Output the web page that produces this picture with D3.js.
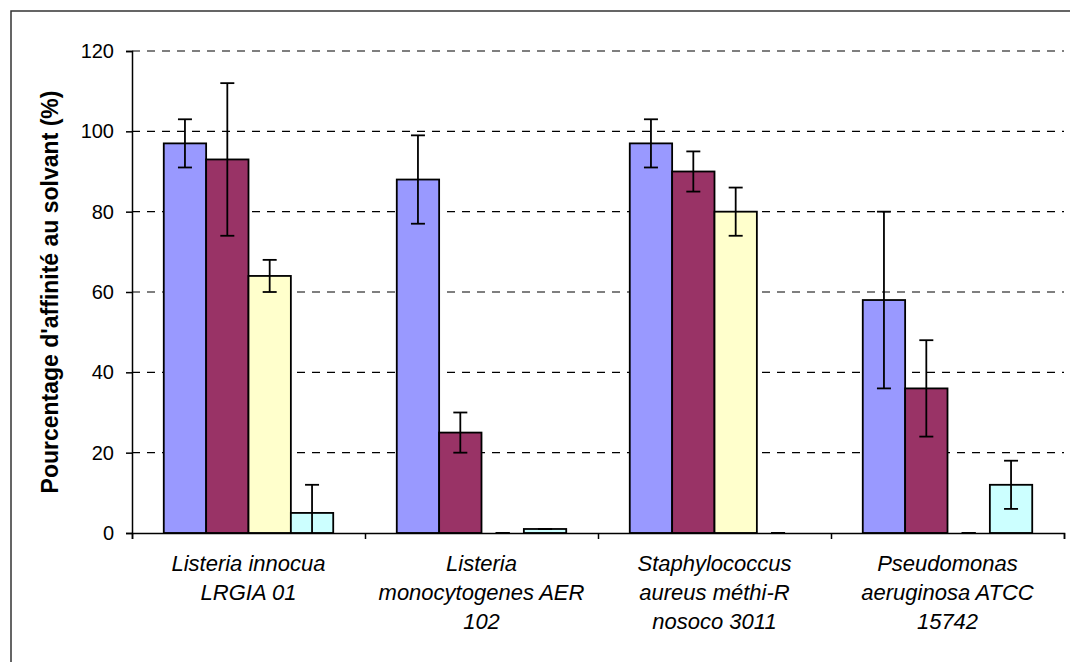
<!DOCTYPE html>
<html><head><meta charset="utf-8">
<script src="https://cdn.jsdelivr.net/npm/d3@7"></script>
<style>html,body{margin:0;padding:0;background:#fff;}svg{display:block;}</style>
</head><body>
<svg id="chart" width="1070" height="662"></svg>
<script>
const categories = [
  ["Listeria innocua", "LRGIA 01"],
  ["Listeria", "monocytogenes AER", "102"],
  ["Staphylococcus", "aureus méthi-R", "nosoco 3011"],
  ["Pseudomonas", "aeruginosa ATCC", "15742"]
];
const seriesNames = ["s1", "s2", "s3", "s4"];
const series1 = [97, 88, 97, 58];
const series2 = [93, 25, 90, 36];
const series3 = [64, 0, 80, 0];
const series4 = [5, 1, 0, 12];
const errors1 = [6, 11, 6, 22];
const errors2 = [19, 5, 5, 12];
const errors3 = [4, 0, 6, 0];
const errors4 = [7, 0, 0, 6];
const yTicks = [0, 20, 40, 60, 80, 100, 120];
const colors = ["#9999FF", "#993366", "#FFFFCC", "#CCFFFF"];
const yTitle = "Pourcentage d'affinité au solvant (%)";

const values = [series1, series2, series3, series4];
const errors = [errors1, errors2, errors3, errors4];

const svg = d3.select("#chart");
const pLeft = 132, pRight = 1064, pTop = 51, pBottom = 533;

// outer border
svg.append("rect").attr("x", 11).attr("y", 11).attr("width", 1100).attr("height", 700)
  .attr("fill", "none").attr("stroke", "#333").attr("stroke-width", 1.5);

const catIdx = categories.map((d, i) => i);
const x0 = d3.scaleBand().domain(catIdx).range([pLeft, pRight]).padding(0);
const x1 = d3.scaleBand().domain(seriesNames).range([0, x0.bandwidth()]).paddingInner(0).paddingOuter(0.75);
const y = d3.scaleLinear().domain([0, 120]).range([pBottom, pTop]);

// gridlines
svg.append("g").selectAll("line").data(yTicks.filter(t => t > 0)).join("line")
  .attr("x1", pLeft).attr("x2", pRight)
  .attr("y1", d => y(d)).attr("y2", d => y(d))
  .attr("stroke", "#000").attr("stroke-width", 1.2).attr("stroke-dasharray", "8,7");

// bars
const data = [];
catIdx.forEach(ci => seriesNames.forEach((s, si) => {
  data.push({ci, si, s, v: values[si][ci], e: errors[si][ci]});
}));
svg.append("g").selectAll("rect").data(data.filter(d => d.v > 0)).join("rect")
  .attr("x", d => x0(d.ci) + x1(d.s))
  .attr("y", d => y(d.v))
  .attr("width", x1.bandwidth())
  .attr("height", d => y(0) - y(d.v))
  .attr("fill", d => colors[d.si])
  .attr("stroke", "#000").attr("stroke-width", 1.8);

// error bars
const eb = svg.append("g").attr("stroke", "#000").attr("stroke-width", 1.8);
const capW = 7;
data.forEach(d => {
  const cx = x0(d.ci) + x1(d.s) + x1.bandwidth() / 2;
  const hi = d.v + d.e;
  const lo = Math.max(0, d.v - d.e);
  eb.append("line").attr("x1", cx).attr("x2", cx).attr("y1", y(hi)).attr("y2", y(lo));
  eb.append("line").attr("x1", cx - capW).attr("x2", cx + capW).attr("y1", y(hi)).attr("y2", y(hi));
  if (d.v - d.e >= 0) {
    eb.append("line").attr("x1", cx - capW).attr("x2", cx + capW).attr("y1", y(lo)).attr("y2", y(lo));
  }
});

// y axis
const yAxis = d3.axisLeft(y).tickValues(yTicks).tickSize(6).tickPadding(12);
const gy = svg.append("g").attr("transform", `translate(${pLeft},0)`).call(yAxis);
gy.select(".domain").attr("stroke", "#000").attr("stroke-width", 1.5);
gy.selectAll(".tick line").attr("stroke", "#000").attr("stroke-width", 1.5);
gy.selectAll(".tick text").attr("font-family", "Liberation Sans, Arial, sans-serif")
  .attr("font-size", 20).attr("fill", "#000");

// x axis
const xb = d3.scaleLinear().domain([0, 4]).range([pLeft, pRight]);
const xAxis = d3.axisBottom(xb).tickValues([0, 1, 2, 3, 4]).tickSize(6).tickFormat("");
const gx = svg.append("g").attr("transform", `translate(0,${pBottom})`).call(xAxis);
gx.select(".domain").attr("stroke", "#000").attr("stroke-width", 1.5);
gx.selectAll(".tick line").attr("stroke", "#000").attr("stroke-width", 1.5);

// category labels
const lab = svg.append("g").attr("font-family", "Liberation Sans, Arial, sans-serif")
  .attr("font-size", 22).attr("font-style", "italic").attr("text-anchor", "middle").attr("fill", "#000");
categories.forEach((lines, ci) => {
  const cx = x0(ci) + x0.bandwidth() / 2;
  lines.forEach((t, li) => {
    lab.append("text").attr("x", cx).attr("y", 571 + li * 29).text(t);
  });
});

// y title
svg.append("text")
  .attr("transform", `translate(58,${(pTop + pBottom) / 2}) rotate(-90)`)
  .attr("text-anchor", "middle")
  .attr("font-family", "Liberation Sans, Arial, sans-serif")
  .attr("font-weight", "bold").attr("font-size", 23).attr("fill", "#000")
  .text(yTitle);
</script>
</body></html>
